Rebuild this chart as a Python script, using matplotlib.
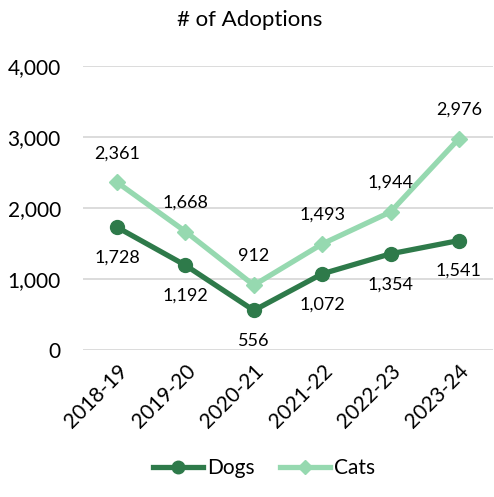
import numpy as np
from matplotlib import pyplot as plt

# data
years = ["2018-19", "2019-20", "2020-21", "2021-22", "2022-23", "2023-24"]
dogs = [1728, 1192, 556, 1072, 1354, 1541]
cats = [2361, 1668, 912, 1493, 1944, 2976]

dog_col = "#2E7A4A"
cat_col = "#96D9B0"

plt.rcParams['font.family'] = ['Lato', 'DejaVu Sans']

fig = plt.figure(figsize=(4.94, 4.97), dpi=100)
ax = fig.add_axes([0.168, 0.296, 0.83, 0.571])
x = np.arange(len(years))

ax.plot(x, dogs, color=dog_col, lw=3.8, marker='o', ms=10, label="Dogs", zorder=3)
ax.plot(x, cats, color=cat_col, lw=3.8, marker='D', ms=8, label="Cats", zorder=3)

# data labels
for i in x:
    ax.annotate(f"{dogs[i]:,}", (i, dogs[i]), xytext=(0, -22), textcoords='offset points',
                ha='center', va='center', fontsize=13)
    ax.annotate(f"{cats[i]:,}", (i, cats[i]), xytext=(0, 21), textcoords='offset points',
                ha='center', va='center', fontsize=13)

ax.set_ylim(0, 4000)
ax.set_xlim(-0.5, len(years) - 0.5)
ax.set_yticks([0, 1000, 2000, 3000, 4000])
ax.set_yticklabels([f"{v:,}" for v in [0, 1000, 2000, 3000, 4000]], fontsize=15)
ax.set_xticks(x)
ax.set_xticklabels(years, rotation=45, ha='right', rotation_mode='anchor', fontsize=15)
ax.grid(axis='y', color='#d9d9d9', lw=1.3)
ax.set_axisbelow(True)
for s in ax.spines.values():
    s.set_visible(False)
ax.tick_params(axis='y', length=0, pad=16)
ax.tick_params(axis='x', length=0, pad=8)

fig.suptitle("# of Adoptions", fontsize=16, x=0.505, y=0.98, va='top')
fig.legend(loc='lower center', ncol=2, frameon=False, fontsize=15,
           bbox_to_anchor=(0.535, 0.0), handlelength=2.4, columnspacing=1.2,
           handletextpad=0.2, markerscale=0.9)

fig.savefig("out.png", dpi=100)
